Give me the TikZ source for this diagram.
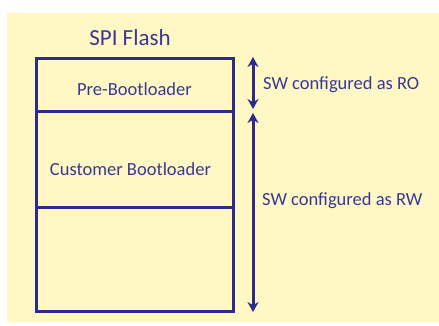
\documentclass[tikz,border=0pt]{standalone}
\usepackage{fontspec}
\setmainfont{Carlito}
\usetikzlibrary{arrows.meta}
\definecolor{bg}{HTML}{FFF7C4}
\definecolor{ln}{HTML}{2C2A8C}
\definecolor{tx}{HTML}{3A3896}
\begin{document}
\begin{tikzpicture}[x=1pt,y=-1pt,
  region/.style={draw=ln,line width=3pt,fill=bg},
  lab/.style={text=tx,font=\fontsize{18.5}{20}\selectfont,inner sep=0pt},
  dim/.style={draw=ln,line width=3pt,{Stealth[length=10pt,width=11pt]}-{Stealth[length=10pt,width=11pt]}}]
\useasboundingbox (0,0) rectangle (439,325);
\fill[white] (0,0) rectangle (439,325);
\fill[bg] (7,13) rectangle (439,322);
\node[lab,font=\fontsize{23}{25}\selectfont] (title) at (130,38) {SPI Flash};
\draw[region] (36,207) rectangle (233,311);
\draw[region] (36,111) rectangle (233,207);
\draw[region] (36,58) rectangle (233,111);
\node[lab] (pre) at (134.5,89) {Pre-Bootloader};
\node[lab] (cust) at (130.5,169) {Customer Bootloader};
\coordinate (roT) at (253,57);
\coordinate (roB) at (253,109);
\coordinate (rwT) at (253,113);
\coordinate (rwB) at (253,312);
\draw[dim] (roT) -- (roB);
\draw[dim] (rwT) -- (rwB);
\node[lab,anchor=west] (ro) at (263,85) {SW configured as RO};
\node[lab,anchor=west] (rw) at (262,201) {SW configured as RW};
\end{tikzpicture}
\end{document}
